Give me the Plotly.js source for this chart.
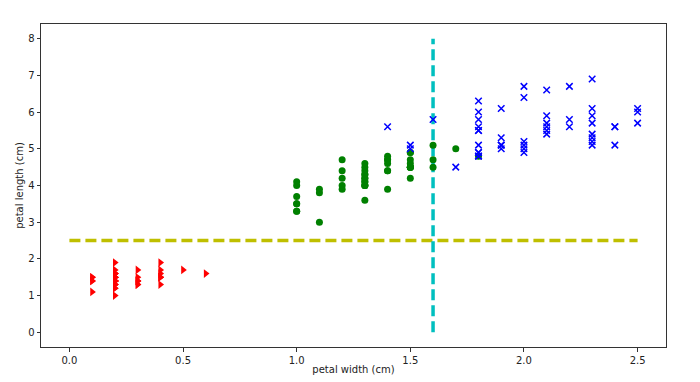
<!DOCTYPE html>
<html><head><meta charset="utf-8">
<script src="https://cdn.plot.ly/plotly-3.0.1.min.js"></script>
<style>body{margin:0;padding:0;background:#fff}</style>
</head><body>
<div id="chart" style="width:700px;height:382px"></div>
<script>
// setosa
const setosaWidth = [0.2,0.2,0.2,0.2,0.2,0.4,0.3,0.2,0.2,0.1,0.2,0.2,0.1,0.1,0.2,0.4,0.4,0.3,0.3,0.3,0.2,0.4,0.2,0.5,0.2,0.2,0.4,0.2,0.2,0.2,0.2,0.4,0.1,0.2,0.2,0.2,0.2,0.1,0.2,0.2,0.3,0.3,0.2,0.6,0.4,0.3,0.2,0.2,0.2,0.2];
const setosaLength = [1.4,1.4,1.3,1.5,1.4,1.7,1.4,1.5,1.4,1.5,1.5,1.6,1.4,1.1,1.2,1.5,1.3,1.4,1.7,1.5,1.7,1.5,1.0,1.7,1.9,1.6,1.6,1.5,1.4,1.6,1.6,1.5,1.5,1.4,1.5,1.2,1.3,1.4,1.3,1.5,1.3,1.3,1.3,1.6,1.9,1.4,1.6,1.4,1.5,1.4];
// versicolor
const versicolorWidth = [1.4,1.5,1.5,1.3,1.5,1.3,1.6,1.0,1.3,1.4,1.0,1.5,1.0,1.4,1.3,1.4,1.5,1.0,1.5,1.1,1.8,1.3,1.5,1.2,1.3,1.4,1.4,1.7,1.5,1.0,1.1,1.0,1.2,1.6,1.5,1.6,1.5,1.3,1.3,1.3,1.2,1.4,1.2,1.0,1.3,1.2,1.3,1.3,1.1,1.3];
const versicolorLength = [4.7,4.5,4.9,4.0,4.6,4.5,4.7,3.3,4.6,3.9,3.5,4.2,4.0,4.7,3.6,4.4,4.5,4.1,4.5,3.9,4.8,4.0,4.9,4.7,4.3,4.4,4.8,5.0,4.5,3.5,3.8,3.7,3.9,5.1,4.5,4.5,4.7,4.4,4.1,4.0,4.4,4.6,4.0,3.3,4.2,4.2,4.2,4.3,3.0,4.1];
// virginica
const virginicaWidth = [2.5,1.9,2.1,1.8,2.2,2.1,1.7,1.8,1.8,2.5,2.0,1.9,2.1,2.0,2.4,2.3,1.8,2.2,2.3,1.5,2.3,2.0,2.0,1.8,2.1,1.8,1.8,1.8,2.1,1.6,1.9,2.0,2.2,1.5,1.4,2.3,2.4,1.8,1.8,2.1,2.4,2.3,1.9,2.3,2.5,2.3,1.9,2.0,2.3,1.8];
const virginicaLength = [6.0,5.1,5.9,5.6,5.8,6.6,4.5,6.3,5.8,6.1,5.1,5.3,5.5,5.0,5.1,5.3,5.5,6.7,6.9,5.0,5.7,4.9,6.7,4.9,5.7,6.0,4.8,4.9,5.6,5.8,6.1,6.4,5.6,5.1,5.6,6.1,5.6,5.5,4.8,5.4,5.6,5.1,5.1,5.9,5.7,5.2,5.0,5.2,5.4,5.1];
// decision boundaries
const hLineX = [0, 2.5];
const hLineY = [2.5, 2.5];
const vLineX = [1.6, 1.6];
const vLineY = [0, 8];

const traces = [
  {x: hLineX, y: hLineY, mode: 'lines', line: {color: '#bfbf00', width: 3.5, dash: '11px,5px'}, hoverinfo: 'skip'},
  {x: vLineX, y: vLineY, mode: 'lines', line: {color: '#00bfbf', width: 3.5, dash: '11px,5px'}, hoverinfo: 'skip'},
  {x: setosaWidth, y: setosaLength, mode: 'markers', marker: {symbol: 'triangle-right', color: '#ff0000', size: 7.5, line: {width: 0}}},
  {x: versicolorWidth, y: versicolorLength, mode: 'markers', marker: {symbol: 'circle', color: '#008000', size: 7, line: {width: 0}}},
  {x: virginicaWidth, y: virginicaLength, mode: 'markers', marker: {symbol: 'x-thin-open', color: '#0000ff', size: 6.5, line: {width: 1.5, color: '#0000ff'}}}
];

const axisCommon = {
  showgrid: false, zeroline: false, showline: true, mirror: true,
  linecolor: '#333', linewidth: 1, ticks: 'outside', ticklen: 3.5, tickwidth: 1, tickcolor: '#333',
  tickfont: {family: 'DejaVu Sans', size: 10, color: '#222'}
};

const layout = {
  width: 700, height: 382,
  margin: {l: 41, r: 34, t: 24, b: 35},
  paper_bgcolor: '#fff', plot_bgcolor: '#fff',
  showlegend: false,
  xaxis: Object.assign({}, axisCommon, {
    range: [-0.125, 2.625], tickvals: [0, 0.5, 1, 1.5, 2, 2.5], ticktext: ['0.0','0.5','1.0','1.5','2.0','2.5'],
    title: {text: 'petal width (cm)', font: {family: 'DejaVu Sans', size: 10, color: '#222'}, standoff: 1}
  }),
  yaxis: Object.assign({}, axisCommon, {
    range: [-0.4, 8.4], tickvals: [0,1,2,3,4,5,6,7,8],
    title: {text: 'petal length (cm)', font: {family: 'DejaVu Sans', size: 10, color: '#222'}, standoff: 2}
  })
};

Plotly.newPlot('chart', traces, layout, {displayModeBar: false, staticPlot: true});
</script>
</body></html>
